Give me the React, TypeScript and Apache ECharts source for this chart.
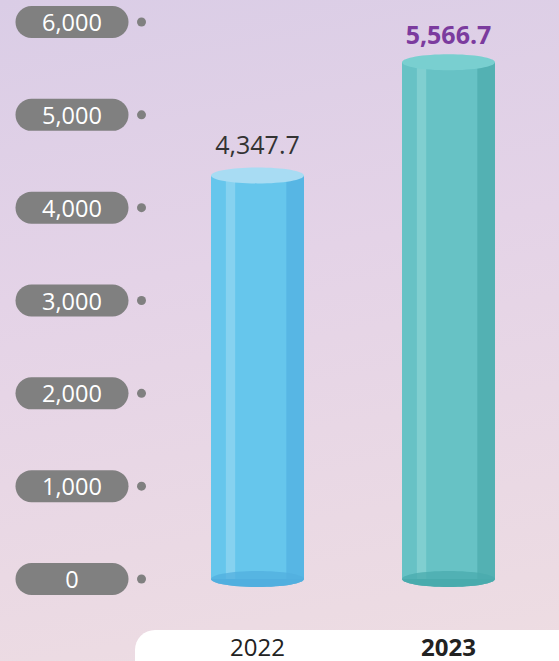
import React, { useEffect, useRef } from "react";
import * as echarts from "echarts";

const categories = ["2022", "2023"];
const values = [4347.7, 5566.7];
const valueLabels = ["4,347.7", "5,566.7"];
const yTicks = [0, 1000, 2000, 3000, 4000, 5000, 6000];

const palettes = [
  { body: "#66c6ec", light: "#86d2f0", dark: "#57b6e4", top: "#a8dcf3", bottom: "#52afdf" },
  { body: "#67c2c5", light: "#80cfd0", dark: "#53b1b3", top: "#79cfd0", bottom: "#4aabad" },
];

export default function App() {
  const ref = useRef<HTMLDivElement>(null);
  useEffect(() => {
    if (!ref.current) return;
    const chart = echarts.init(ref.current, null, { renderer: "svg" });
    const fmt = (v: number) => v.toLocaleString("en-US");
    chart.setOption({
      animation: false,
      textStyle: { fontFamily: "Open Sans" },
      grid: { left: 162, right: 15, top: 22, bottom: 82 },
      graphic: [
        {
          type: "rect",
          shape: { x: 135, y: 630, width: 460, height: 62, r: 20 },
          style: { fill: "#ffffff" },
          z: 0,
        },
      ],
      xAxis: {
        type: "category",
        data: categories,
        axisLine: { show: false },
        axisTick: { show: false },
        axisLabel: {
          margin: 55,
          formatter: (v: string, i: number) => (i === 1 ? `{b|${v}}` : `{a|${v}}`),
          rich: {
            a: { fontSize: 24, lineHeight: 24, color: "#222222", fontFamily: "Open Sans" },
            b: { fontSize: 24, lineHeight: 24, color: "#222222", fontWeight: "bold", fontFamily: "Open Sans" },
          },
        },
      },
      yAxis: {
        type: "value",
        min: 0,
        max: yTicks[yTicks.length - 1],
        interval: 1000,
        splitLine: { show: false },
        axisLine: { show: false },
        axisTick: { show: false },
        axisLabel: {
          margin: 16,
          formatter: (v: number) => `{p|${fmt(v)}}{s|}{d|}`,
          rich: {
            p: {
              backgroundColor: "#808080",
              color: "#ffffff",
              fontSize: 23.5,
              fontFamily: "Open Sans",
              width: 113,
              height: 32,
              lineHeight: 32,
              borderRadius: 16,
              align: "center",
            },
            s: { width: 8.5, height: 9 },
            d: { backgroundColor: "#808080", width: 9, height: 9, borderRadius: 4.5 },
          },
        },
      },
      series: [
        {
          type: "custom",
          data: values.map((v, i) => [i, v]),
          renderItem: (params: any, api: any) => {
            const idx = params.dataIndex;
            const pal = palettes[idx];
            const top = api.coord([api.value(0), api.value(1)]);
            const base = api.coord([api.value(0), 0]);
            const w = 93;
            const x0 = top[0] - w / 2;
            const ry = 8;
            const h = base[1] - top[1];
            return {
              type: "group",
              children: [
                { type: "ellipse", shape: { cx: top[0], cy: base[1], rx: w / 2, ry }, style: { fill: pal.bottom } },
                { type: "rect", shape: { x: x0, y: top[1], width: w, height: h }, style: { fill: pal.body } },
                { type: "rect", shape: { x: x0 + w * 0.16, y: top[1], width: w * 0.1, height: h }, style: { fill: pal.light } },
                { type: "rect", shape: { x: x0 + w * 0.81, y: top[1], width: w * 0.19, height: h }, style: { fill: pal.dark } },
                {
                  type: "ellipse",
                  shape: { cx: top[0], cy: base[1], rx: w / 2, ry },
                  style: { fill: pal.bottom, opacity: 0.75 },
                },
                { type: "ellipse", shape: { cx: top[0], cy: top[1], rx: w / 2, ry }, style: { fill: pal.top } },
                {
                  type: "text",
                  x: top[0],
                  y: top[1] - (idx === 1 ? 28 : 31),
                  style: {
                    text: valueLabels[idx],
                    align: "center",
                    verticalAlign: "middle",
                    fontSize: 25,
                    fontWeight: idx === 1 ? "bold" : "normal",
                    fill: idx === 1 ? "#7b3b9e" : "#333333",
                    fontFamily: "Open Sans",
                  },
                },
              ],
            };
          },
        },
      ],
    });
    return () => chart.dispose();
  }, []);
  return (
    <div
      style={{
        position: "absolute",
        left: 0,
        top: 0,
        width: 559,
        height: 661,
        background: "linear-gradient(170deg, #dacde6 0%, #e4d3e7 40%, #eedde2 100%)",
      }}
    >
      <div ref={ref} style={{ width: 559, height: 661 }} />
    </div>
  );
}
